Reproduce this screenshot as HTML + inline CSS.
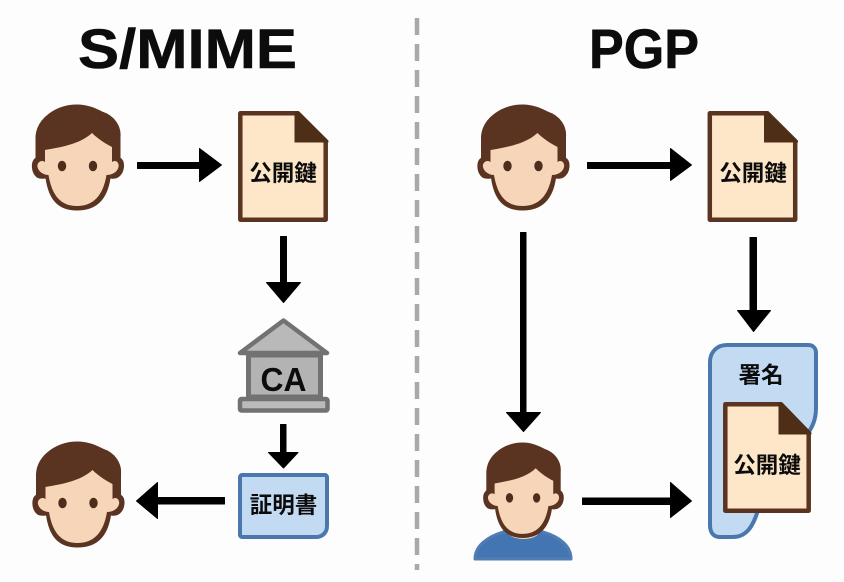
<!DOCTYPE html>
<html lang="ja"><head><meta charset="utf-8"><title>S/MIME and PGP</title>
<style>html,body{margin:0;padding:0;background:#fdfdfd}svg{display:block}
.t{font-family:"Liberation Sans","Noto Sans CJK JP",sans-serif;font-weight:700;fill:#0c0c0c}
.j{font-size:22.5px;text-anchor:middle}</style></head><body>
<svg width="844" height="582" viewBox="0 0 844 582" xmlns="http://www.w3.org/2000/svg">
<defs>
<g id="head">
<path d="M36 137C37 118 57 105 77 105C88 105 96 109 102 112C114 116 121 126 120 137L120 158C125 161 125 172 118 177C115 179 112 178 110 178C107 199 96 210 77 210C58 210 49 199 46 178C44 178 40 179 37 177C31 172 31 161 36 158Z" fill="#5a3420" stroke="#5a3420" stroke-width="1" stroke-linejoin="round"/>
<path d="M45 150C62 147 80 144 92 133C98 139 106 144 112 147L112 162C116 159 119.500 163 118.500 167C117.500 172 112 175 106.500 175C103 196 93 206 77 206C61 206 52 196 48.500 175C44 175 38.500 172 37.500 167C36.500 163 41 159 45 162Z" fill="#f6d5b8"/>
<ellipse cx="62" cy="166" rx="4.200" ry="5.300" fill="#4d2e1c"/>
<ellipse cx="93" cy="166" rx="4.200" ry="5.300" fill="#4d2e1c"/>
</g>
<g id="doc">
<path d="M240.300 113.300H298L325.700 141V219.700H240.300Z" fill="#fde7c8" stroke="#5a3420" stroke-width="4.500" stroke-linejoin="round"/>
<path d="M295 112H298L328 141V142H295Z" fill="#4f2e18" stroke="#4f2e18" stroke-linejoin="round"/>
</g>
</defs>
<rect width="844" height="582" fill="#fdfdfd"/>

<line x1="417" y1="18" x2="417" y2="570" stroke="#a9a9a9" stroke-width="4.500" stroke-dasharray="17 9"/>

<text class="t" x="78" y="68" font-size="56" stroke="#0c0c0c" stroke-width=".6" stroke-linejoin="round" textLength="219" lengthAdjust="spacingAndGlyphs">S/MIME</text>
<text class="t" x="589" y="68" font-size="56" stroke="#0c0c0c" stroke-width=".6" stroke-linejoin="round" textLength="110" lengthAdjust="spacingAndGlyphs">PGP</text>

<use href="#head"/>
<use href="#head" transform="translate(.5 337)"/>
<use href="#head" transform="translate(445.500 0)"/>

<!-- documents -->
<use href="#doc"/>
<text class="t j" x="283" y="181">公開鍵</text>
<use href="#doc" transform="translate(469.500 0)"/>
<text class="t j" x="753" y="181">公開鍵</text>

<!-- CA -->
<path d="M283.500 320.500L327 353H240Z" fill="#b9b9b9" stroke="#727272" stroke-width="4.500" stroke-linejoin="round"/>
<rect x="248.500" y="355" width="72" height="42" fill="#b3b3b3" stroke="#727272" stroke-width="5"/>
<rect x="240" y="399" width="87.500" height="11.500" rx="1.500" fill="#bbb" stroke="#727272" stroke-width="4.500"/>
<text class="t" x="283.500" y="391" font-size="33" text-anchor="middle" textLength="46" lengthAdjust="spacingAndGlyphs">CA</text>

<!-- certificate -->
<path d="M242 475H325C326 475 327 476 327 477V526C327 533 322 537 316 537H242C241 537 240 536 240 535V477C240 476 241 475 242 475Z" fill="#c3daf3" stroke="#4a78ad" stroke-width="4"/>
<text class="t j" x="283.500" y="513">証明書</text>

<!-- user with shoulders -->
<path d="M475 559C475 546 487 537 503 532L543 532C560 537 571 546 571 559Z" fill="#4475b3" stroke="#4f7db3" stroke-width="3" stroke-linejoin="round"/>
<path d="M508 533C512 541 535 541 539 533L530 525H516Z" fill="#f6d5b8"/>
<use href="#head" transform="translate(455.250 348.500) scale(.875 .9)"/>

<!-- signature -->
<path d="M710 362C710 352 717 345 727 345H808C813 345 816 348 816 353V408C816 420 812 428 806 436L758 510C753 527 746 537 733 537H720C713 537 710 532 710 525Z" fill="#c3daf3" stroke="#4a78ad" stroke-width="4" stroke-linejoin="round"/>
<text class="t j" x="761" y="383">署名</text>
<path d="M725.300 404.300H781L808.700 433V510.700H725.300Z" fill="#fde7c8" stroke="#5a3420" stroke-width="4.500" stroke-linejoin="round"/>
<path d="M779 403H782L811 433V434H779Z" fill="#4f2e18" stroke="#4f2e18" stroke-linejoin="round"/>
<text class="t j" x="767" y="473">公開鍵</text>

<!-- arrows -->
<g fill="#000" stroke="#000" stroke-width="1" stroke-linejoin="round">
<path d="M137.500 162.500H199.500V148.500L221.500 165L199.500 181.500V168.500H137.500Z"/>
<path d="M280.500 236.500H286.500V282.500H300.500L283.500 302.500L266.500 282.500H280.500Z"/>
<path d="M280.500 424.500H286V452.500H298L283.500 468L268.500 452.500H280.500Z"/>
<path d="M224.500 497.500V504H157.500V518.500L136.500 501L157.500 482.500V497.500Z"/>
<path d="M587.500 162.500H670.500V148.500L691.500 165L670.500 180.500V168.500H587.500Z"/>
<path d="M520.500 232.500H526V412.500H540.500L523.500 431.500L506.500 412.500H520.500Z"/>
<path d="M750 237.500H756.500V310.500H770.500L753.500 331.500L737.500 310.500H750Z"/>
<path d="M582.500 498V504.500H670.500V517.500L691.500 501L670.500 482.500V498Z"/>
</g>
</svg>
</body></html>
